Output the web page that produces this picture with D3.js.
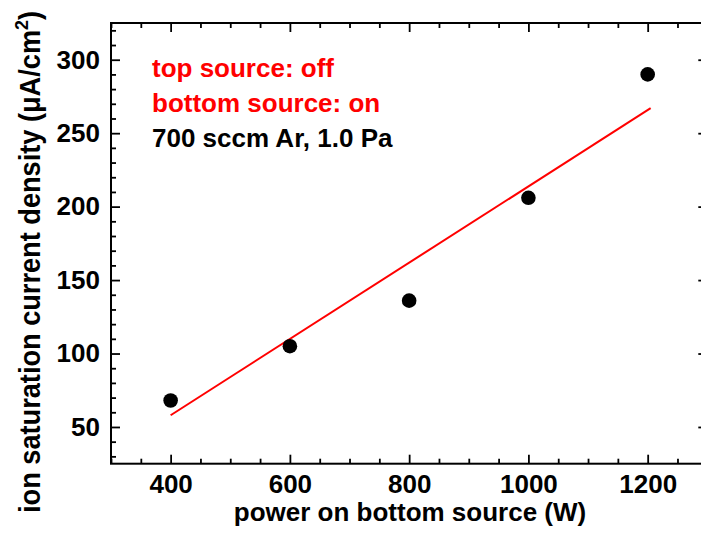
<!DOCTYPE html>
<html>
<head>
<meta charset="utf-8">
<script src="https://cdn.jsdelivr.net/npm/d3@7"></script>
<style>
  body { margin: 0; background: #fff; }
  svg { display: block; font-family: "Liberation Sans", Arial, sans-serif; font-weight: bold; }
</style>
</head>
<body>
<svg id="chart"></svg>
<script>
// measured points
const power = [400, 600, 800, 1000, 1200]
const current = [68, 105, 136, 206, 290]
// linear fit line, as drawn
const fitPower = [400, 1205]
const fitCurrent = [58, 267]
const xTicks = [400, 600, 800, 1000, 1200]
const yTicks = [50, 100, 150, 200, 250, 300]
const notes = [
    {text: 'top source: off', color: '#ff0000'},
    {text: 'bottom source: on', color: '#ff0000'},
    {text: '700 sccm Ar, 1.0 Pa', color: '#000000'}
]

const width = 701
const height = 549
const svg = d3.select('#chart').attr('width', width).attr('height', height)

const plot = {left: 111, right: 707.3, top: 23, bottom: 463.7}
const xScale = d3.scaleLinear().domain([300, 1300]).range([plot.left, plot.right])
const yScale = d3.scaleLinear().domain([25, 325]).range([plot.bottom, plot.top])

const xMinor = d3.range(300, 1301, 50).filter(v => !xTicks.includes(v))
const yMinor = d3.range(30, 325, 10).filter(v => !yTicks.includes(v))

const styleAxis = g => {
    g.select('.domain').remove()
    g.selectAll('line').attr('stroke', '#000').attr('stroke-width', 1.8)
    g.selectAll('text').attr('font-size', 26).attr('font-weight', 'bold')
        .attr('font-family', '"Liberation Sans", Arial, sans-serif').attr('fill', '#000')
}

// bottom
svg.append('g').attr('transform', `translate(0,${plot.bottom})`)
    .call(d3.axisBottom(xScale).tickValues(xTicks).tickSize(-9).tickPadding(11).tickFormat(d3.format('d')))
    .call(styleAxis)
svg.append('g').attr('transform', `translate(0,${plot.bottom})`)
    .call(d3.axisBottom(xScale).tickValues(xMinor).tickSize(-5).tickFormat(''))
    .call(styleAxis)
// top
svg.append('g').attr('transform', `translate(0,${plot.top})`)
    .call(d3.axisTop(xScale).tickValues(xTicks).tickSize(-9).tickFormat(''))
    .call(styleAxis)
svg.append('g').attr('transform', `translate(0,${plot.top})`)
    .call(d3.axisTop(xScale).tickValues(xMinor).tickSize(-5).tickFormat(''))
    .call(styleAxis)
// left
svg.append('g').attr('transform', `translate(${plot.left},0)`)
    .call(d3.axisLeft(yScale).tickValues(yTicks).tickSize(-9).tickPadding(11))
    .call(styleAxis)
svg.append('g').attr('transform', `translate(${plot.left},0)`)
    .call(d3.axisLeft(yScale).tickValues(yMinor).tickSize(-5).tickFormat(''))
    .call(styleAxis)
// right
svg.append('g').attr('transform', `translate(${plot.right},0)`)
    .call(d3.axisRight(yScale).tickValues(yTicks).tickSize(-9).tickFormat(''))
    .call(styleAxis)
svg.append('g').attr('transform', `translate(${plot.right},0)`)
    .call(d3.axisRight(yScale).tickValues(yMinor).tickSize(-5).tickFormat(''))
    .call(styleAxis)

// frame
svg.append('rect')
    .attr('x', plot.left).attr('y', plot.top)
    .attr('width', plot.right - plot.left).attr('height', plot.bottom - plot.top)
    .attr('fill', 'none').attr('stroke', '#000').attr('stroke-width', 2)

// fit line
const fit = fitPower.map((p, i) => [p, fitCurrent[i]])
svg.append('path')
    .datum(fit)
    .attr('fill', 'none')
    .attr('stroke', '#ff0000')
    .attr('stroke-width', 2)
    .attr('d', d3.line().x(d => xScale(d[0])).y(d => yScale(d[1])))

// points
svg.selectAll('circle.pt').data(power.map((p, i) => [p, current[i]]))
    .enter().append('circle')
        .attr('class', 'pt')
        .attr('cx', d => xScale(d[0]))
        .attr('cy', d => yScale(d[1]))
        .attr('r', 7.3)
        .attr('fill', '#000')

// annotation
svg.selectAll('text.note').data(notes)
    .enter().append('text')
        .attr('class', 'note')
        .attr('x', 152)
        .attr('y', (d, i) => 77 + i * 35)
        .attr('font-size', 26)
        .attr('fill', d => d.color)
        .text(d => d.text)

// axis titles
svg.append('text')
    .attr('x', 410)
    .attr('y', 521)
    .attr('text-anchor', 'middle')
    .attr('font-size', 26)
    .text('power on bottom source (W)')

const yt = svg.append('text')
    .attr('transform', 'translate(40,262) rotate(-90) scale(1.045,1.12)')
    .attr('text-anchor', 'middle')
    .attr('font-size', 26)
yt.append('tspan').text('ion saturation current density (\u03bcA/cm')
yt.append('tspan').attr('font-size', 17).attr('dy', -11).text('2')
yt.append('tspan').attr('dy', 11).text(')')
</script>
</body>
</html>
